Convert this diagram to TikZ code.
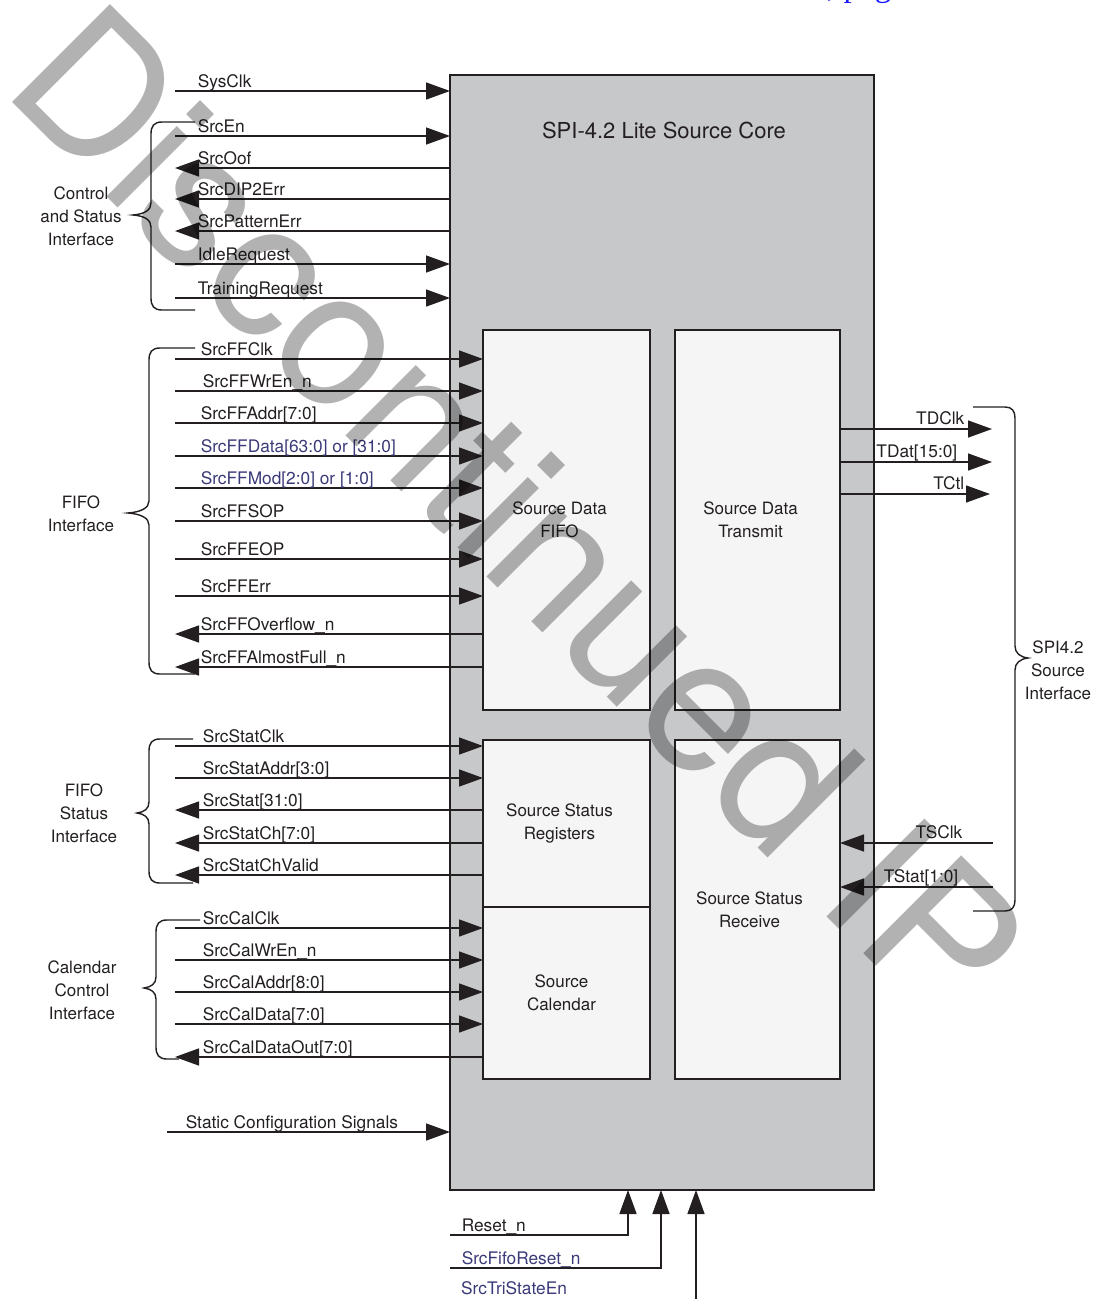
\documentclass[tikz,border=0pt]{standalone}
\usepackage{fontspec}
\setmainfont{TeX Gyre Heros}
\newfontfamily\hdrfont{Liberation Serif}
\usetikzlibrary{arrows.meta}
\definecolor{ink}{HTML}{231F20}
\definecolor{coregray}{HTML}{C7C8CA}
\definecolor{blkfill}{HTML}{F5F5F5}
\definecolor{navy}{HTML}{3A3A78}
\definecolor{hdrblue}{HTML}{1A1AFF}

\begin{document}
\begin{tikzpicture}[
  x=1pt,y=-1pt,
  core/.style={draw=ink, fill=coregray, line width=1.8pt, minimum width=424pt, minimum height=1115pt, inner sep=0pt, outer sep=0pt},
  blk/.style={draw=ink, fill=blkfill, line width=1.6pt, inner sep=0pt, outer sep=0pt},
  blktxt/.style={align=center, text=ink, font=\fontsize{17}{23}\selectfont},
  title/.style={text=ink, font=\fontsize{22}{26}\selectfont},
  lbl/.style={anchor=base west, text=ink, inner sep=0pt, xshift=#1, yshift=4pt, font=\fontsize{17.3}{20}\selectfont},
  lbl/.default=25pt,
  rlbl/.style={anchor=base east, text=ink, inner sep=0pt, xshift=#1, yshift=5pt, font=\fontsize{17.3}{20}\selectfont},
  grp/.style={align=center, text=ink, font=\fontsize{17}{23}\selectfont},
  inarr/.style={-{Triangle[length=24pt,width=17pt]}, draw=ink, line width=1.5pt},
  outarr/.style={{Triangle[length=24pt,width=17pt]}-, draw=ink, line width=1.5pt},
  brc/.style={draw=ink, line width=1.4pt},
  wmark/.style={anchor=base west, rotate=-45, inner sep=0pt, text=black, text opacity=0.3, font=\fontsize{190}{190}\selectfont},
  hdr/.style={anchor=base west, inner sep=0pt, text=hdrblue, font=\hdrfont\fontsize{33}{36}\selectfont}
]
\useasboundingbox (0,0) rectangle (1096,1299);
\clip (0,0) rectangle (1096,1299);
\node[hdr] (hdr) at (827,-4) {, page};

% core and inner blocks
\node[core] (core) at (662,632.5) {};
\node[title] (ttl) at (664,130) {SPI-4.2 Lite Source Core};
\node[blk, minimum width=167pt, minimum height=380pt] (fifo) at (566.5,520) {};
\node[blk, minimum width=165pt, minimum height=380pt] (xmit) at (757.5,520) {};
\node[blk, minimum width=167pt, minimum height=167pt] (statreg) at (566.5,823.5) {};
\node[blk, minimum width=167pt, minimum height=172pt] (cal) at (566.5,993) {};
\node[blk, minimum width=165pt, minimum height=339pt] (rcv) at (757.5,909.5) {};
\node[blktxt] (fifo-t) at ([xshift=-7pt]fifo.center) {Source Data\\FIFO};
\node[blktxt] (xmit-t) at ([xshift=-7pt]xmit.center) {Source Data\\Transmit};
\node[blktxt] (statreg-t) at ([xshift=-7pt]statreg.center) {Source Status\\Registers};
\node[blktxt] (cal-t) at ([xshift=-5pt]cal.center) {Source\\Calendar};
\node[blktxt] (rcv-t) at ([xshift=-8pt]rcv.center) {Source Status\\Receive};

% control and status interface
\coordinate (sysclk) at (175,91);
\coordinate (srcen) at (175,136);
\coordinate (srcoof) at (175,168);
\coordinate (dip2err) at (175,199);
\coordinate (patterr) at (175,231);
\coordinate (idlereq) at (175,264);
\coordinate (trainreq) at (175,298);
\draw[inarr] (sysclk) -- (sysclk -| core.west) node[lbl=22pt, at start] (t-sysclk) {SysClk};
\draw[inarr] (srcen) -- (srcen -| core.west) node[lbl=22pt, at start] (t-srcen) {SrcEn};
\draw[outarr] (srcoof) -- (srcoof -| core.west) node[lbl=22pt, at start] (t-srcoof) {SrcOof};
\draw[outarr] (dip2err) -- (dip2err -| core.west) node[lbl=22pt, at start] (t-dip2err) {SrcDIP2Err};
\draw[outarr] (patterr) -- (patterr -| core.west) node[lbl=22pt, at start] (t-patterr) {SrcPatternErr};
\draw[inarr] (idlereq) -- (idlereq -| core.west) node[lbl=22pt, at start] (t-idlereq) {IdleRequest};
\draw[inarr] (trainreq) -- (trainreq -| core.west) node[lbl=22pt, at start] (t-trainreq) {TrainingRequest};
\draw[brc] (195,122) -- (162,122) .. controls (154,122) and (151,126) .. (151,134) -- (151,203) .. controls (151,210) and (145,214) .. (133,215) .. controls (145,216) and (151,220) .. (151,227) -- (151,298) .. controls (151,306) and (154,310) .. (162,310) -- (195,310);
\node[grp] (ctlgrp) at (81,216) {Control\\and Status\\Interface};

% FIFO interface
\coordinate (ffclk) at (175,359);
\coordinate (ffwren) at (175,391);
\coordinate (ffaddr) at (175,423);
\coordinate (ffdata) at (175,456);
\coordinate (ffmod) at (175,488);
\coordinate (ffsop) at (175,521);
\coordinate (ffeop) at (175,559);
\coordinate (fferr) at (175,596);
\coordinate (ffovf) at (175,634);
\coordinate (ffafull) at (175,667);
\draw[inarr] (ffclk) -- (ffclk -| fifo.west) node[lbl, at start] (t-ffclk) {SrcFFClk};
\draw[inarr] (ffwren) -- (ffwren -| fifo.west) node[lbl=27pt, at start] (t-ffwren) {SrcFFWrEn\_n};
\draw[inarr] (ffaddr) -- (ffaddr -| fifo.west) node[lbl, at start] (t-ffaddr) {SrcFFAddr[7:0]};
\draw[inarr] (ffdata) -- (ffdata -| fifo.west) node[lbl, at start, text=navy] (t-ffdata) {SrcFFData[63:0] or [31:0]};
\draw[inarr] (ffmod) -- (ffmod -| fifo.west) node[lbl, at start, text=navy] (t-ffmod) {SrcFFMod[2:0] or [1:0]};
\draw[inarr] (ffsop) -- (ffsop -| fifo.west) node[lbl, at start] (t-ffsop) {SrcFFSOP};
\draw[inarr] (ffeop) -- (ffeop -| fifo.west) node[lbl, at start] (t-ffeop) {SrcFFEOP};
\draw[inarr] (fferr) -- (fferr -| fifo.west) node[lbl, at start] (t-fferr) {SrcFFErr};
\draw[outarr] (ffovf) -- (ffovf -| fifo.west) node[lbl, at start] (t-ffovf) {SrcFFOverflow\_n};
\draw[outarr] (ffafull) -- (ffafull -| fifo.west) node[lbl, at start] (t-ffafull) {SrcFFAlmostFull\_n};
\draw[brc] (195,348) -- (160,348) .. controls (152,348) and (149,352) .. (149,360) -- (149,501) .. controls (149,508) and (141,512) .. (128,513) .. controls (141,514) and (149,518) .. (149,525) -- (149,662) .. controls (149,670) and (152,674) .. (160,674) -- (195,674);
\node[grp] (fifogrp) at (81,514) {FIFO\\Interface};

% FIFO status interface
\coordinate (statclk) at (175,746);
\coordinate (stataddr) at (175,778);
\coordinate (stat) at (175,810);
\coordinate (statch) at (175,843);
\coordinate (statvalid) at (175,875);
\draw[inarr] (statclk) -- (statclk -| statreg.west) node[lbl=27pt, at start] (t-statclk) {SrcStatClk};
\draw[inarr] (stataddr) -- (stataddr -| statreg.west) node[lbl=27pt, at start] (t-stataddr) {SrcStatAddr[3:0]};
\draw[outarr] (stat) -- (stat -| statreg.west) node[lbl=27pt, at start] (t-stat) {SrcStat[31:0]};
\draw[outarr] (statch) -- (statch -| statreg.west) node[lbl=27pt, at start] (t-statch) {SrcStatCh[7:0]};
\draw[outarr] (statvalid) -- (statvalid -| statreg.west) node[lbl=27pt, at start] (t-statvalid) {SrcStatChValid};
\draw[brc] (193,739) -- (160,739) .. controls (152,739) and (149,743) .. (149,751) -- (149,802) .. controls (149,809) and (144,812) .. (137,813) .. controls (144,814) and (149,817) .. (149,824) -- (149,871) .. controls (149,879) and (152,883) .. (160,883) -- (193,883);
\node[grp] (statgrp) at (84,813) {FIFO\\Status\\Interface};

% calendar control interface
\coordinate (calclk) at (175,928);
\coordinate (calwren) at (175,960);
\coordinate (caladdr) at (175,992);
\coordinate (caldata) at (175,1024);
\coordinate (calout) at (175,1057);
\draw[inarr] (calclk) -- (calclk -| cal.west) node[lbl=27pt, at start] (t-calclk) {SrcCalClk};
\draw[inarr] (calwren) -- (calwren -| cal.west) node[lbl=27pt, at start] (t-calwren) {SrcCalWrEn\_n};
\draw[inarr] (caladdr) -- (caladdr -| cal.west) node[lbl=27pt, at start] (t-caladdr) {SrcCalAddr[8:0]};
\draw[inarr] (caldata) -- (caldata -| cal.west) node[lbl=27pt, at start] (t-caldata) {SrcCalData[7:0]};
\draw[outarr] (calout) -- (calout -| cal.west) node[lbl=27pt, at start] (t-calout) {SrcCalDataOut[7:0]};
\draw[brc] (200,920) -- (167,920) .. controls (159,920) and (156,924) .. (156,932) -- (156,977) .. controls (156,984) and (151,987) .. (144,988) .. controls (151,989) and (156,992) .. (156,999) -- (156,1047) .. controls (156,1055) and (159,1059) .. (167,1059) -- (179,1059);
\node[grp] (calgrp) at (82,990) {Calendar\\Control\\Interface};

% static configuration
\coordinate (static) at (167,1132);
\draw[inarr] (static) -- (static -| core.west) node[lbl=18pt, at start] (t-static) {Static Configuration Signals};

% SPI4.2 source interface
\coordinate (tdclk) at (992,429);
\coordinate (tdat) at (992,462);
\coordinate (tctl) at (990,494);
\coordinate (tsclk) at (993,843);
\coordinate (tstat) at (993,887);
\draw[inarr] (tdclk -| xmit.east) -- (tdclk) node[rlbl=-27pt, at end] (t-tdclk) {TDClk};
\draw[inarr] (tdat -| xmit.east) -- (tdat) node[rlbl=-34pt, at end] (t-tdat) {TDat[15:0]};
\draw[inarr] (tctl -| xmit.east) -- (tctl) node[rlbl=-25pt, at end] (t-tctl) {TCtl};
\draw[inarr] (tsclk) -- (tsclk -| rcv.east) node[rlbl=-30pt, at start] (t-tsclk) {TSClk};
\draw[inarr] (tstat) -- (tstat -| rcv.east) node[rlbl=-34pt, at start] (t-tstat) {TStat[1:0]};
\draw[brc] (973,407) -- (1005,407) .. controls (1012,407) and (1015,411) .. (1015,418) -- (1015,646) .. controls (1015,653) and (1020,657) .. (1028,658) .. controls (1020,659) and (1015,663) .. (1015,670) -- (1015,900) .. controls (1015,907) and (1012,911) .. (1005,911) -- (973,911);
\node[grp] (spigrp) at (1058,670) {SPI4.2\\Source\\Interface};

% reset and tristate inputs
\coordinate (rst) at (450,1235);
\coordinate (rstup) at (628,1235);
\coordinate (fiforst) at (450,1268);
\coordinate (fiforstup) at (661,1268);
\coordinate (tristate) at (696,1310);
\draw[inarr] (rst) -- (rstup) node[lbl=11pt, at start] (t-rst) {Reset\_n} -- (rstup |- core.south);
\draw[inarr] (fiforst) -- (fiforstup) node[lbl=11pt, at start, text=navy] (t-fiforst) {SrcFifoReset\_n} -- (fiforstup |- core.south);
\draw[inarr] (tristate) -- (tristate |- core.south);
\node[lbl=0pt, text=navy] (t-tristate) at (461,1298) {SrcTriStateEn};

% watermark
\node[wmark] (wm) at (0,90) {Discontinued IP};
\end{tikzpicture}
\end{document}
